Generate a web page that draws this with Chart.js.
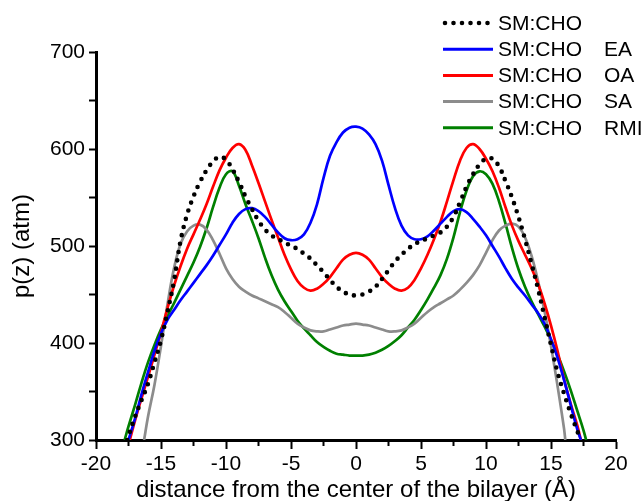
<!DOCTYPE html>
<html><head><meta charset="utf-8">
<script src="https://cdn.jsdelivr.net/npm/chart.js@4.4.0/dist/chart.umd.min.js"></script>
<style>html,body{margin:0;padding:0;background:#fff;}#wrap{width:641px;height:501px;}</style>
</head><body><div id="wrap"><canvas id="c" width="641" height="501"></canvas></div>
<script>
// ---- data ----
const legendBase = ['SM:CHO', 'SM:CHO', 'SM:CHO', 'SM:CHO', 'SM:CHO'];
const legendSuffix = ['', 'EA', 'OA', 'SA', 'RMI'];
const xTitle = 'distance from the center of the bilayer (Å)';
const yTitle = 'p(z) (atm)';

const choX = [-17.6,-17,-16.5,-16,-15.5,-15,-14.5,-14,-13.5,-13,-12.5,-12,-11.5,-11,-10.5,-10,-9.5,-9,-8.5,-8,-7.5,-7,-6.5,-6,-5.5,-5,-4.5,-4,-3.5,-3,-2.5,-2,-1.5,-1,-0.5,0,
  0.5,1,1.5,2,2.5,3,3.5,4,4.5,5,5.5,6,6.5,7,7.5,8,8.5,9,9.5,10,10.5,11,11.5,12,12.5,13,13.5,14,14.5,15,15.5,16,16.5,17,17.3];
const choY = [300,324,341,358,380,403,432,464,505,532,551,566,578,587,592,589,579,566,551,538,526,517,511,507,504,500,497,492,487,480,473,465,458,453,450,449,
  450,453,458,466,475,484,491,497,502,505,508,511,514,520,530,545,561,574,584,590,590,582,567,550,530,507,482,456,427,398,370,348,328,310,300];

const eaX = [-17.5,-17,-16.5,-16,-15.5,-15,-14.5,-14,-13.5,-13,-12.5,-12,-11.5,-11,-10.5,-10,-9.5,-9,-8.5,-8,-7.5,-7,-6.5,-6,-5.5,-5,-4.5,-4,-3.5,-3,-2.5,-2,-1.5,-1,-0.5,0,
  0.5,1,1.5,2,2.5,3,3.5,4,4.5,5,5.5,6,6.5,7,7.5,8,8.5,9,9.5,10,10.5,11,11.5,12,12.5,13,13.5,14,14.5,15,15.5,16,16.5,17,17.3];
const eaY = [300,322,347,370,392,410,424,434,444,453,462,471,480,490,501,512,524,533,538,539,536,530,522,514,508,506,507,512,524,543,570,593,607,617,622,623,
  621,615,605,588,563,539,521,511,507,507,510,516,523,530,536,538,535,528,520,511,500,489,477,466,457,449,440,431,420,404,385,362,337,312,300];

const oaX = [-17.4,-17,-16.5,-16,-15.5,-15,-14.5,-14,-13.5,-13,-12.5,-12,-11.5,-11,-10.5,-10,-9.5,-9,-8.5,-8,-7.5,-7,-6.5,-6,-5.5,-5,-4.5,-4,-3.5,-3,-2.5,-2,-1.5,-1,-0.5,0,
  0.5,1,1.5,2,2.5,3,3.5,4,4.5,5,5.5,6,6.5,7,7.5,8,8.5,9,9.5,10,10.5,11,11.5,12,12.5,13,13.5,14,14.5,15,15.5,16,16.5,17,17.3];
const oaY = [300,320,343,365,388,411,436,459,479,497,512,527,543,561,578,591,601,605,599,583,565,546,527,509,491,476,464,457,454,456,461,468,477,486,491,493,
  491,486,477,468,461,456,454,457,465,477,491,507,525,546,568,588,601,605,600,590,577,560,540,521,505,491,477,461,441,418,392,363,338,316,300];

const saX = [-16.3,-16,-15.5,-15,-14.5,-14,-13.5,-13,-12.5,-12,-11.5,-11,-10.5,-10,-9.5,-9,-8.5,-8,-7.5,-7,-6.5,-6,-5.5,-5,-4.5,-4,-3.5,-3,-2.5,-2,-1.5,-1,-0.5,0,
  0.5,1,1.5,2,2.5,3,3.5,4,4.5,5,5.5,6,6.5,7,7.5,8,8.5,9,9.5,10,10.5,11,11.5,12,12.5,13,13.5,14,14.5,15,15.5,16,16.1];
const saY = [300,324,357,397,440,477,502,515,521,522,517,506,492,477,466,458,453,449,446,443,440,437,432,426,420,416,413,412,412,414,416,418,419,420,
  419,418,416,414,412,412,413,416,420,426,432,437,441,445,449,455,462,470,480,493,506,516,521,523,520,509,490,464,433,397,356,312,300];

const rmiX = [-17.8,-17.5,-17,-16.5,-16,-15.5,-15,-14.5,-14,-13.5,-13,-12.5,-12,-11.5,-11,-10.5,-10,-9.5,-9,-8.5,-8,-7.5,-7,-6.5,-6,-5.5,-5,-4.5,-4,-3.5,-3,-2.5,-2,-1.5,-1,-0.5,0,
  0.5,1,1.5,2,2.5,3,3.5,4,4.5,5,5.5,6,6.5,7,7.5,8,8.5,9,9.5,10,10.5,11,11.5,12,12.5,13,13.5,14,14.5,15,15.5,16,16.5,17,17.5,17.7];
const rmiY = [300,314,336,359,380,398,414,428,441,455,469,483,499,518,540,560,574,577,562,543,526,508,488,470,455,443,433,423,415,408,401,396,392,389,388,387,387,
  387,388,390,393,397,402,408,416,424,434,445,457,470,487,509,535,557,572,577,574,564,546,523,498,476,458,443,430,417,403,388,371,352,331,310,300];

const seriesColors = ['#000000', '#0000ff', '#ff0000', '#8c8c8c', '#008000'];

function pts(xs, ys) { return xs.map((x, i) => ({ x: x, y: ys[i] })); }

const seriesData = [pts(choX, choY), pts(eaX, eaY), pts(oaX, oaY), pts(saX, saY), pts(rmiX, rmiY)];

const datasets = seriesData.map((d, i) => ({
  label: legendBase[i] + (legendSuffix[i] ? '   ' + legendSuffix[i] : ''),
  data: d,
  borderColor: seriesColors[i],
  borderWidth: i === 0 ? 4.6 : 2.7,
  borderDash: i === 0 ? [0, 8.5] : [],
  borderCapStyle: i === 0 ? 'round' : 'butt',
  pointRadius: 0,
  fill: false,
  tension: 0.4
}));

const FONT = '"Liberation Sans", Arial, sans-serif';

const legendPlugin = {
  id: 'customLegend',
  afterDraw(chart) {
    const ctx = chart.ctx;
    ctx.save();
    ctx.font = '21px ' + FONT;
    ctx.textBaseline = 'middle';
    chart.data.datasets.forEach((ds, i) => {
      const y = 23 + 26.2 * i;
      ctx.beginPath();
      ctx.strokeStyle = ds.borderColor;
      ctx.lineWidth = i === 0 ? 4.6 : 3;
      ctx.setLineDash(ds.borderDash);
      ctx.lineCap = ds.borderCapStyle;
      ctx.moveTo(i === 0 ? 445 : 443, y);
      ctx.lineTo(493, y);
      ctx.stroke();
      ctx.setLineDash([]);
      ctx.fillStyle = '#000';
      ctx.fillText(legendBase[i], 498, y + 1);
      if (legendSuffix[i]) ctx.fillText(legendSuffix[i], 604, y + 1);
    });
    // short minor ticks on the x axis
    const xs = chart.scales.x;
    const bottom = chart.chartArea.bottom;
    ctx.strokeStyle = '#000';
    ctx.lineWidth = 2;
    ctx.lineCap = 'butt';
    for (const t of xs.ticks) {
      if (t.value % 5 !== 0) {
        const px = xs.getPixelForValue(t.value);
        ctx.beginPath();
        ctx.moveTo(px, bottom);
        ctx.lineTo(px, bottom + 6);
        ctx.stroke();
      }
    }
    ctx.restore();
  }
};

new Chart(document.getElementById('c'), {
  type: 'line',
  data: { datasets: datasets },
  options: {
    responsive: false,
    animation: false,
    devicePixelRatio: 1,
    layout: { padding: { top: 52, right: 25, left: 0, bottom: 0 } },
    plugins: { legend: { display: false }, tooltip: { enabled: false } },
    scales: {
      x: {
        type: 'linear', min: -20, max: 20,
        afterFit(s) { s.height = 61; },
        border: { display: true, color: '#000', width: 3 },
        grid: { drawOnChartArea: false, drawTicks: true, tickLength: 9, tickWidth: 2,
                color: '#000', tickColor: (c) => (c.tick && c.tick.value % 5 === 0) ? '#000' : 'rgba(0,0,0,0)' },
        ticks: { stepSize: 2.5, autoSkip: false, maxRotation: 0, color: '#000', padding: 3,
                 font: { size: 21, family: FONT },
                 callback: (v) => (v % 5 === 0 ? String(v) : '') },
        title: { display: true, text: xTitle, color: '#000', font: { size: 24, family: FONT }, padding: { top: -3, bottom: -4 } }
      },
      y: {
        min: 300, max: 700,
        afterFit(s) { s.width = 96; },
        border: { display: true, color: '#000', width: 3 },
        grid: { drawOnChartArea: false, drawTicks: true, tickLength: 7, tickWidth: 2, color: '#000' },
        ticks: { stepSize: 50, autoSkip: false, color: '#000', padding: 4,
                 font: { size: 21, family: FONT },
                 callback: (v) => (v % 100 === 0 ? String(v) : '') },
        title: { display: true, text: yTitle, color: '#000', font: { size: 24, family: FONT }, padding: { top: 8, bottom: 0 } }
      }
    }
  },
  plugins: [legendPlugin]
});
</script>
</body></html>
